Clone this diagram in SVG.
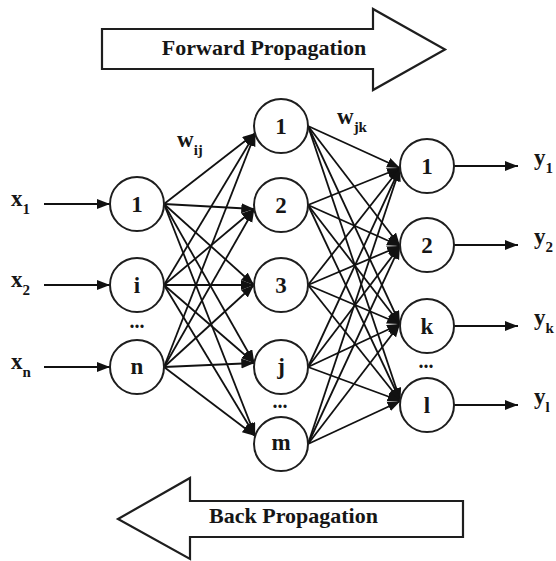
<svg xmlns="http://www.w3.org/2000/svg" width="556" height="561" viewBox="0 0 556 561">
<defs>
<style>
text{font-family:"Liberation Serif","Times New Roman",serif;font-weight:bold;fill:#161616}
.big{font-size:22px}
.lbl{font-size:23px}
.node text{font-size:23px;text-anchor:middle}
.node circle{fill:#fff;stroke:#1e1e1e;stroke-width:2}
.sub{font-size:15px}
.dots{font-size:20px;text-anchor:middle}
.band{fill:#fff;stroke:#1e1e1e;stroke-width:2.2;stroke-linejoin:miter}
#connectors line{stroke:#111;stroke-width:1.8;marker-end:url(#ah)}
</style>
<marker id="ah" markerUnits="userSpaceOnUse" markerWidth="14" markerHeight="11" refX="13" refY="5" orient="auto">
<path d="M0,0 L13,5 L0,10 Z" fill="#111"/>
</marker>
</defs>
<rect width="556" height="561" fill="#fff"/>

<g id="forward-arrow">
<polygon class="band" points="102,29 373,29 373,9 445,49.5 373,90 373,69 102,69"/>
<text class="big" x="264" y="55" text-anchor="middle">Forward Propagation</text>
</g>
<g id="back-arrow">
<polygon class="band" points="463,501 190,501 190,478 118,519 190,559 190,537 463,537"/>
<text class="big" x="293.5" y="523" text-anchor="middle">Back Propagation</text>
</g>

<g id="connectors">
<line x1="44" y1="204" x2="110" y2="204"/>
<line x1="44" y1="285" x2="110" y2="285"/>
<line x1="44" y1="367" x2="110" y2="367"/>
<line x1="164" y1="204" x2="255.4" y2="133"/>
<line x1="164" y1="204" x2="254.3" y2="209"/>
<line x1="164" y1="204" x2="254" y2="285"/>
<line x1="164" y1="204" x2="254.3" y2="363"/>
<line x1="164" y1="204" x2="255.2" y2="436"/>
<line x1="164" y1="285" x2="255.4" y2="133"/>
<line x1="164" y1="285" x2="254.3" y2="209"/>
<line x1="164" y1="285" x2="254" y2="285"/>
<line x1="164" y1="285" x2="254.3" y2="363"/>
<line x1="164" y1="285" x2="255.2" y2="436"/>
<line x1="164" y1="367" x2="255.4" y2="133"/>
<line x1="164" y1="367" x2="254.3" y2="209"/>
<line x1="164" y1="367" x2="254" y2="285"/>
<line x1="164" y1="367" x2="254.3" y2="363"/>
<line x1="164" y1="367" x2="255.2" y2="436"/>
<line x1="308" y1="126" x2="400" y2="168"/>
<line x1="308" y1="126" x2="400" y2="246"/>
<line x1="308" y1="126" x2="400" y2="324"/>
<line x1="308" y1="126" x2="400.5" y2="401"/>
<line x1="308" y1="205" x2="400" y2="168"/>
<line x1="308" y1="205" x2="400" y2="246"/>
<line x1="308" y1="205" x2="400" y2="324"/>
<line x1="308" y1="205" x2="400.5" y2="401"/>
<line x1="308" y1="285" x2="400" y2="168"/>
<line x1="308" y1="285" x2="400" y2="246"/>
<line x1="308" y1="285" x2="400" y2="324"/>
<line x1="308" y1="285" x2="400.5" y2="401"/>
<line x1="308" y1="367" x2="400" y2="168"/>
<line x1="308" y1="367" x2="400" y2="246"/>
<line x1="308" y1="367" x2="400" y2="324"/>
<line x1="308" y1="367" x2="400.5" y2="401"/>
<line x1="308" y1="444" x2="400" y2="168"/>
<line x1="308" y1="444" x2="400" y2="246"/>
<line x1="308" y1="444" x2="400" y2="324"/>
<line x1="308" y1="444" x2="400.5" y2="401"/>
<line x1="454" y1="166" x2="518" y2="166"/>
<line x1="454" y1="245" x2="518" y2="245"/>
<line x1="454" y1="326" x2="518" y2="326"/>
<line x1="454" y1="405" x2="518" y2="405"/>
</g>

<g id="labels">
<text class="lbl" x="11" y="206">x<tspan class="sub" dy="8">1</tspan></text>
<text class="lbl" x="11" y="287">x<tspan class="sub" dy="8">2</tspan></text>
<text class="lbl" x="11" y="369">x<tspan class="sub" dy="8">n</tspan></text>
<text class="lbl" x="534" y="165">y<tspan class="sub" dy="8">1</tspan></text>
<text class="lbl" x="534" y="244">y<tspan class="sub" dy="8">2</tspan></text>
<text class="lbl" x="534" y="325">y<tspan class="sub" dy="8">k</tspan></text>
<text class="lbl" x="534" y="404">y<tspan class="sub" dy="8">l</tspan></text>
<text class="lbl" x="177" y="147">w<tspan class="sub" dy="8">ij</tspan></text>
<text class="lbl" x="337" y="124">w<tspan class="sub" dy="8">jk</tspan></text>
<text class="dots" x="137" y="328">...</text>
<text class="dots" x="280" y="408">...</text>
<text class="dots" x="426" y="368">...</text>
</g>

<g id="in-1" class="node"><circle cx="137" cy="204" r="27"/><text x="137" y="212">1</text></g>
<g id="in-i" class="node"><circle cx="137" cy="285" r="27"/><text x="137" y="293">i</text></g>
<g id="in-n" class="node"><circle cx="137" cy="367" r="27"/><text x="137" y="374">n</text></g>

<g id="hid-1" class="node"><circle cx="281" cy="126" r="27"/><text x="281" y="134">1</text></g>
<g id="hid-2" class="node"><circle cx="281" cy="205" r="27"/><text x="281" y="213">2</text></g>
<g id="hid-3" class="node"><circle cx="281" cy="285" r="27"/><text x="281" y="293">3</text></g>
<g id="hid-j" class="node"><circle cx="281" cy="367" r="27"/><text x="281" y="374">j</text></g>
<g id="hid-m" class="node"><circle cx="281" cy="444" r="27"/><text x="281" y="450">m</text></g>

<g id="out-1" class="node"><circle cx="427" cy="166" r="27"/><text x="427" y="174">1</text></g>
<g id="out-2" class="node"><circle cx="427" cy="245" r="27"/><text x="427" y="253">2</text></g>
<g id="out-k" class="node"><circle cx="427" cy="326" r="27"/><text x="427" y="334">k</text></g>
<g id="out-l" class="node"><circle cx="427" cy="405" r="27"/><text x="427" y="413">l</text></g>
</svg>
